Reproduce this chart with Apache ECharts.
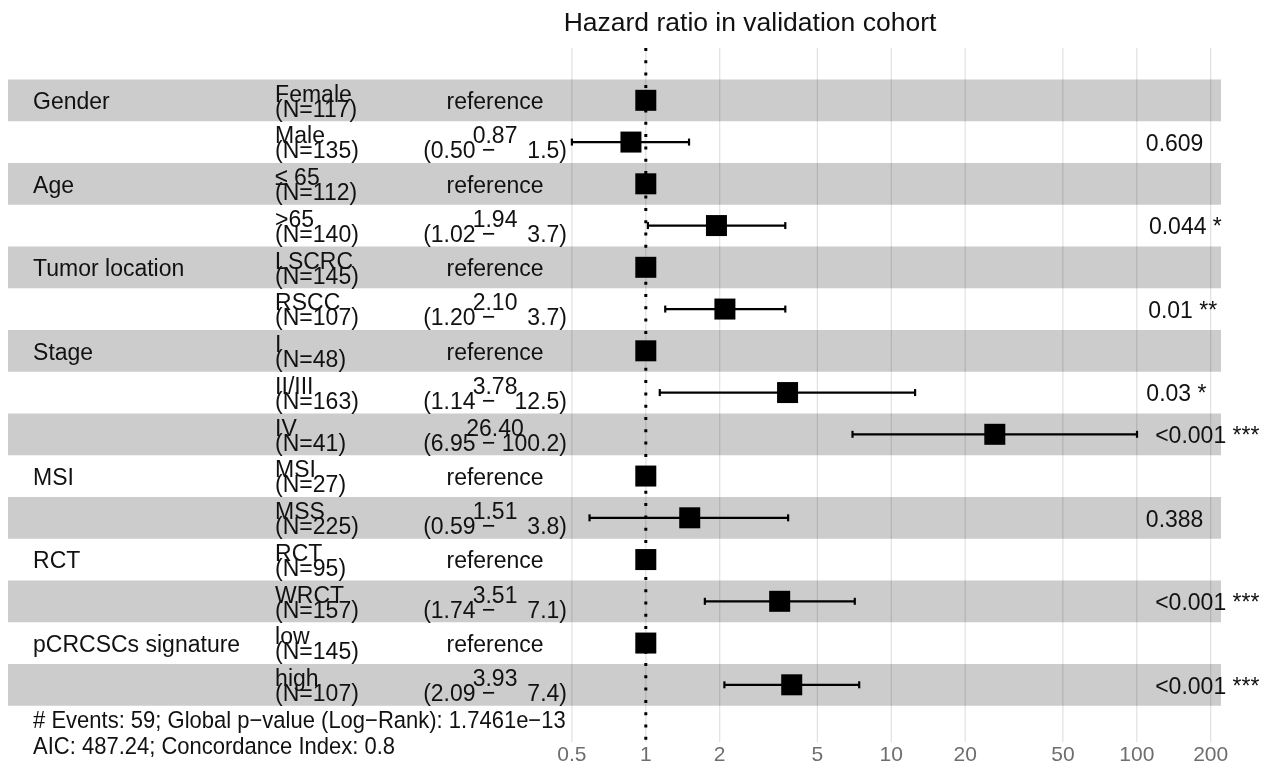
<!DOCTYPE html>
<html>
<head>
<meta charset="utf-8">
<script src="https://cdn.jsdelivr.net/npm/echarts@6/dist/echarts.min.js"></script>
<style>
html, body { margin: 0; padding: 0; background: #fff; }
#forest { width: 1269px; height: 768px; }
</style>
</head>
<body>
<div id="forest"></div>
<script>
// data
var variables = ['Gender', 'Gender', 'Age', 'Age', 'Tumor location', 'Tumor location', 'Stage', 'Stage', 'Stage',
                 'MSI', 'MSI', 'RCT', 'RCT', 'pCRCSCs signature', 'pCRCSCs signature'];
var levels = ['Female', 'Male', '≤ 65', '>65', 'LSCRC', 'RSCC', 'I', 'II/III', 'IV', 'MSI', 'MSS', 'RCT', 'WRCT', 'low', 'high'];
var counts = [117, 135, 112, 140, 145, 107, 48, 163, 41, 27, 225, 95, 157, 145, 107];
var hazard = [1, 0.87, 1, 1.94, 1, 2.10, 1, 3.78, 26.40, 1, 1.51, 1, 3.51, 1, 3.93];
var ciLow = [null, 0.50, null, 1.02, null, 1.20, null, 1.14, 6.95, null, 0.59, null, 1.74, null, 2.09];
var ciHigh = [null, 1.5, null, 3.7, null, 3.7, null, 12.5, 100.2, null, 3.8, null, 7.1, null, 7.4];
var pValues = ['', '0.609', '', '0.044 *', '', '0.01 **', '', '0.03 *', '<0.001 ***', '', '0.388', '', '<0.001 ***', '', '<0.001 ***'];
var tickValues = [0.5, 1, 2, 5, 10, 20, 50, 100, 200];
var footer = ['# Events: 59; Global p\u2212value (Log\u2212Rank): 1.7461e\u221213',
              'AIC: 487.24; Concordance Index: 0.8'];

// layout (log10 units on x, row units on y)
var X_MIN = -2.598, X_MAX = 2.343;
var Y_MIN = -0.253, Y_MAX = 16.37;
var COL_VAR = -2.496, COL_LEVEL = -1.510, COL_EST = -0.614, COL_P = 1.99;
var FONT = '"Liberation Sans", Arial, sans-serif';
var FS = 23;
var STRETCH = 1.08; // text in the picture is a bit taller than wide

var lg = function (v) { return Math.log(v) / Math.LN10; };

var ctx = document.createElement('canvas').getContext('2d');
ctx.font = FS + 'px ' + FONT;

var rowOf = function (i) { return i + 1; };

// text cells
var texts = [];
var seen = {};
for (var i = 0; i < levels.length; i++) {
    if (!seen[variables[i]]) {
        seen[variables[i]] = true;
        texts.push({ x: COL_VAR, y: rowOf(i), text: variables[i], align: 'left' });
    }
    texts.push({ x: COL_LEVEL, y: rowOf(i), text: levels[i] + '\n(N=' + counts[i] + ')', align: 'left' });
    var est;
    if (ciLow[i] === null) {
        est = 'reference';
    } else {
        var hi = ciHigh[i].toFixed(1);
        var pad = '';
        for (var k = hi.length; k < 5; k++) pad += '  '; // two spaces ~ one digit
        est = hazard[i].toFixed(2) + '\n(' + ciLow[i].toFixed(2) + ' \u2212 ' + pad + hi + ')';
    }
    texts.push({ x: COL_EST, y: rowOf(i), text: est, align: 'center' });
    if (pValues[i]) {
        // hjust = -0.2 like ggplot
        var w = ctx.measureText(pValues[i]).width;
        texts.push({ x: COL_P, y: rowOf(i), text: pValues[i], align: 'left', dx: 0.2 * w });
    }
}
texts.push({ x: COL_VAR, y: 15.82, text: footer[0], align: 'left', size: 22 });
texts.push({ x: COL_VAR, y: 16.45, text: footer[1], align: 'left', size: 22 });

var bandRows = [];
for (i = 0; i < levels.length; i += 2) bandRows.push([0, rowOf(i)]);

var bars = [];
var points = [];
for (i = 0; i < levels.length; i++) {
    points.push([lg(hazard[i]), rowOf(i)]);
    if (ciLow[i] !== null) bars.push([lg(ciLow[i]), lg(ciHigh[i]), rowOf(i)]);
}

var myChart = echarts.init(document.getElementById('forest'));

option = {
    animation: false,
    backgroundColor: '#fff',
    title: {
        text: 'Hazard ratio in validation cohort',
        left: 745,
        top: 5,
        textAlign: 'center',
        textStyle: { fontFamily: FONT, fontSize: 26.5, fontWeight: 'normal', color: '#111' }
    },
    grid: { left: 8, right: 48, top: 48, bottom: 26 },
    xAxis: {
        type: 'value',
        min: X_MIN,
        max: X_MAX,
        splitLine: { show: false },
        axisLine: { show: false },
        axisTick: { show: false },
        axisLabel: {
            customValues: tickValues.map(lg),
            margin: 3,
            fontFamily: FONT,
            fontSize: 21,
            color: '#6e6e6e',
            formatter: function (v) { return String(Number(Math.pow(10, v).toPrecision(6))); }
        }
    },
    yAxis: {
        type: 'value',
        inverse: true,
        min: Y_MIN,
        max: Y_MAX,
        show: false
    },
    series: [
        {
            // alternating grey rows
            type: 'custom',
            data: bandRows,
            renderItem: function (params, api) {
                var p1 = api.coord([X_MIN, api.value(1) - 0.5]);
                var p2 = api.coord([X_MAX, api.value(1) + 0.5]);
                return { type: 'rect', shape: { x: p1[0], y: p1[1], width: p2[0] - p1[0], height: p2[1] - p1[1] },
                         style: { fill: '#cccccc' } };
            }
        },
        {
            // vertical grid lines at the breaks
            type: 'custom',
            data: tickValues.map(function (t) { return [lg(t), 0]; }),
            renderItem: function (params, api) {
                var p1 = api.coord([api.value(0), Y_MIN]);
                var p2 = api.coord([api.value(0), Y_MAX]);
                return { type: 'line', shape: { x1: p1[0], y1: p1[1], x2: p2[0], y2: p2[1] },
                         style: { stroke: 'rgba(0,0,0,0.12)', lineWidth: 1.2 } };
            }
        },
        {
            // reference line HR = 1
            type: 'custom',
            data: [[0, 0]],
            renderItem: function (params, api) {
                var p1 = api.coord([api.value(0), Y_MIN]);
                var p2 = api.coord([api.value(0), Y_MAX]);
                return { type: 'line', shape: { x1: p1[0], y1: p1[1], x2: p2[0], y2: p2[1] },
                         style: { stroke: '#000', lineWidth: 3, lineDash: [3, 9.3] } };
            }
        },
        {
            // confidence intervals
            type: 'custom',
            data: bars,
            renderItem: function (params, api) {
                var a = api.coord([api.value(0), api.value(2)]);
                var b = api.coord([api.value(1), api.value(2)]);
                var st = { stroke: '#000', lineWidth: 2.2 };
                return { type: 'group', children: [
                    { type: 'line', shape: { x1: a[0], y1: a[1], x2: b[0], y2: b[1] }, style: st },
                    { type: 'line', shape: { x1: a[0], y1: a[1] - 3.5, x2: a[0], y2: a[1] + 3.5 }, style: st },
                    { type: 'line', shape: { x1: b[0], y1: b[1] - 3.5, x2: b[0], y2: b[1] + 3.5 }, style: st }
                ] };
            }
        },
        {
            type: 'scatter',
            data: points,
            symbol: 'rect',
            symbolSize: 21,
            itemStyle: { color: '#000', opacity: 1 }
        },
        {
            // table text
            type: 'custom',
            data: texts.map(function (t) { return [t.x, t.y]; }),
            renderItem: function (params, api) {
                var t = texts[params.dataIndex];
                var p = api.coord([api.value(0), api.value(1)]);
                return { type: 'text', x: p[0] + (t.dx || 0), y: p[1] + 2, scaleY: STRETCH,
                         style: { text: t.text, fill: '#111', font: (t.size || FS) + 'px ' + FONT,
                                  align: t.align, verticalAlign: 'middle', lineHeight: 15 / STRETCH } };
            }
        }
    ]
};

myChart.setOption(option);
</script>
</body>
</html>
